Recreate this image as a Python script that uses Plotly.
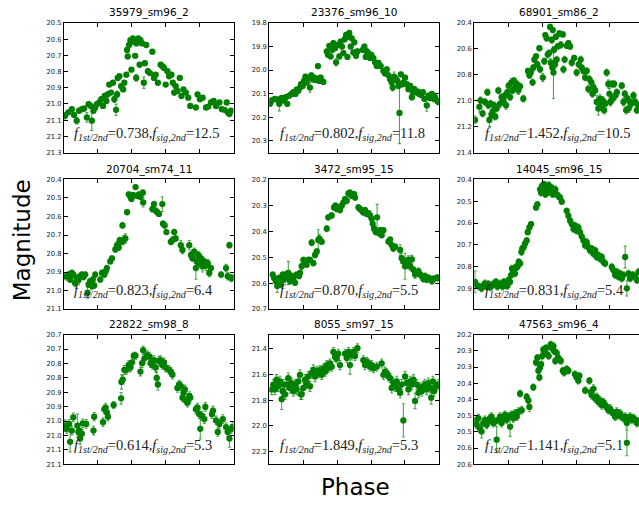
import plotly.graph_objects as go

# ---------------- data ----------------
titles = ["35979_sm96_2", "23376_sm96_10", "68901_sm86_2",
          "20704_sm74_11", "3472_sm95_15", "14045_sm96_15",
          "22822_sm98_8", "8055_sm97_15", "47563_sm96_4"]
f_ratio = ["0.738", "0.802", "1.452", "0.823", "0.870", "0.831", "0.614", "1.849", "1.141"]
f_sig = ["12.5", "11.8", "10.5", "6.4", "5.5", "5.4", "5.3", "5.3", "5.1"]

# magnitude axis limits (bright at top)
y_top = [20.5, 19.8, 20.4, 20.4, 20.2, 20.4, 20.65, 21.29, 20.2]
y_bottom = [21.3, 20.35, 21.4, 21.1, 20.7, 20.995, 21.10, 22.3, 20.6]
y_tickvals = [
    [20.5, 20.6, 20.7, 20.8, 20.9, 21.0, 21.1, 21.2, 21.3],
    [19.8, 19.9, 20.0, 20.1, 20.2, 20.3],
    [20.4, 20.6, 20.8, 21.0, 21.2, 21.4],
    [20.4, 20.5, 20.6, 20.7, 20.8, 20.9, 21.0, 21.1],
    [20.2, 20.3, 20.4, 20.5, 20.6, 20.7],
    [20.4, 20.5, 20.6, 20.7, 20.8, 20.9],
    [20.65, 20.70, 20.75, 20.80, 20.85, 20.90, 20.95, 21.00, 21.05, 21.10],
    [21.4, 21.6, 21.8, 22.0, 22.2],
    [20.20, 20.25, 20.30, 20.35, 20.40, 20.45, 20.50, 20.55, 20.60],
]
y_ticktext = [
    ["20.5", "20.6", "20.7", "20.8", "20.9", "21.0", "21.1", "21.2", "21.3"],
    ["19.8", "19.9", "20.0", "20.1", "20.2", "20.3"],
    ["20.4", "20.6", "20.8", "21.0", "21.2", "21.4"],
    ["20.4", "20.5", "20.6", "20.7", "20.8", "20.9", "21.0", "21.1"],
    ["20.2", "20.3", "20.4", "20.5", "20.6", "20.7"],
    ["20.4", "20.5", "20.6", "20.7", "20.8", "20.9"],
    ["20.7", "20.7", "20.8", "20.8", "20.9", "20.9", "21.0", "21.0", "21.1", "21.1"],
    ["21.4", "21.6", "21.8", "22.0", "22.2"],
    ["20.2", "20.3", "20.3", "20.4", "20.4", "20.5", "20.5", "20.6", "20.6"],
]
x_tickvals = [0.2, 0.4, 0.6, 0.8]

phase1 = [0.006,0.026,0.046,0.059,0.075,0.089,0.105,0.119,0.135,0.145,
          0.158,0.164,0.174,0.184,0.194,0.208,0.220,0.230,0.240,0.250,
          0.257,0.267,0.277,0.289,0.297,0.307,0.313,0.317,0.327,0.337,
          0.349,0.356,0.368,0.372,0.376,0.384,0.392,0.398,0.406,0.412,
          0.420,0.426,0.428,0.438,0.446,0.451,0.461,0.471,0.477,0.485,
          0.495,0.507,0.521,0.531,0.541,0.554,0.570,0.582,0.590,0.600,
          0.610,0.620,0.634,0.642,0.650,0.659,0.669,0.683,0.693,0.705,
          0.719,0.733,0.745,0.778,0.788,0.802,0.818,0.838,0.851,0.867,
          0.883,0.897,0.917,0.931,0.947,0.960,0.966,0.976,0.986]
mag1 = [21.073,21.052,21.032,21.068,21.103,21.042,21.032,21.028,21.083,21.001,
        21.012,21.103,21.042,21.022,21.001,20.991,20.971,21.012,20.951,20.981,
        20.941,20.880,20.930,20.869,20.971,21.036,20.941,20.839,20.829,20.890,
        20.910,20.869,20.819,20.666,20.707,20.636,20.606,20.788,20.595,20.616,
        20.703,20.839,20.626,20.595,20.758,20.606,20.626,20.869,20.748,20.636,
        20.798,20.809,20.677,20.839,20.819,20.869,20.758,20.768,20.778,20.880,
        20.798,20.829,20.819,20.869,20.930,20.890,20.920,20.839,20.951,20.910,
        20.930,20.961,21.012,21.022,20.941,20.971,20.961,21.022,21.016,20.991,
        20.981,21.012,20.991,21.032,21.036,20.991,21.052,21.062,21.042]
err1 = [0.020,0.012,0.012,0.012,0.020,0.012,0.012,0.010,0.030,0.012,
        0.012,0.060,0.015,0.012,0.012,0.015,0.012,0.015,0.012,0.012,
        0.015,0.012,0.012,0.012,0.020,0.035,0.020,0.012,0.012,0.012,
        0.012,0.012,0.012,0.012,0.012,0.010,0.012,0.012,0.010,0.012,
        0.012,0.020,0.012,0.010,0.012,0.010,0.012,0.035,0.015,0.012,
        0.015,0.012,0.012,0.015,0.012,0.012,0.012,0.012,0.012,0.012,
        0.012,0.012,0.012,0.012,0.015,0.012,0.012,0.012,0.012,0.012,
        0.012,0.012,0.012,0.012,0.012,0.012,0.012,0.012,0.012,0.012,
        0.012,0.012,0.012,0.012,0.012,0.012,0.012,0.012,0.012]

phase2 = [0.004,0.014,0.033,0.047,0.059,0.073,0.087,0.098,0.106,0.118,
          0.132,0.142,0.154,0.161,0.171,0.181,0.187,0.197,0.205,0.213,
          0.220,0.230,0.240,0.248,0.256,0.264,0.272,0.280,0.287,0.295,
          0.303,0.319,0.339,0.346,0.354,0.362,0.372,0.378,0.388,0.394,
          0.402,0.413,0.421,0.429,0.437,0.445,0.453,0.461,0.467,0.472,
          0.480,0.486,0.496,0.502,0.512,0.520,0.551,0.561,0.569,0.575,
          0.585,0.594,0.602,0.614,0.624,0.634,0.644,0.657,0.673,0.683,
          0.693,0.703,0.713,0.722,0.728,0.736,0.746,0.756,0.762,0.768,
          0.776,0.785,0.791,0.801,0.811,0.821,0.831,0.841,0.846,0.856,
          0.866,0.876,0.884,0.896,0.906,0.915,0.929,0.939,0.949,0.959,
          0.969,0.978,0.988,0.998]
mag2 = [20.143,20.129,20.122,20.125,20.143,20.118,20.129,20.115,20.143,20.108,
        20.101,20.094,20.101,20.083,20.088,20.074,20.060,20.067,20.046,20.028,
        20.053,20.036,20.074,20.022,20.039,20.032,20.042,20.036,19.983,20.046,
        20.032,20.050,19.921,19.935,19.897,19.942,19.914,19.886,19.907,19.967,
        19.893,19.942,19.879,19.900,19.928,19.869,19.851,19.944,19.858,19.842,
        19.900,19.865,19.925,19.882,19.939,19.921,19.914,19.900,19.944,19.921,
        19.928,19.949,19.935,19.949,19.967,19.983,19.969,19.983,20.004,20.014,
        19.997,20.022,20.039,20.053,20.074,20.028,20.036,20.046,20.067,20.182,
        20.018,20.060,20.053,20.032,20.060,20.081,20.067,20.115,20.092,20.081,
        20.094,20.092,20.101,20.106,20.094,20.122,20.150,20.108,20.119,20.101,
        20.122,20.115,20.129,20.136]
err2 = [0.010,0.010,0.010,0.010,0.030,0.010,0.010,0.010,0.010,0.010,
        0.010,0.010,0.010,0.010,0.010,0.010,0.010,0.010,0.010,0.010,
        0.010,0.010,0.020,0.010,0.010,0.010,0.010,0.010,0.010,0.010,
        0.010,0.010,0.010,0.010,0.010,0.010,0.010,0.010,0.010,0.015,
        0.010,0.010,0.010,0.010,0.010,0.010,0.010,0.010,0.010,0.010,
        0.010,0.010,0.010,0.010,0.010,0.010,0.010,0.010,0.010,0.010,
        0.010,0.010,0.010,0.010,0.010,0.010,0.010,0.010,0.010,0.010,
        0.010,0.010,0.010,0.010,0.015,0.020,0.010,0.010,0.010,0.130,
        0.010,0.010,0.010,0.010,0.010,0.010,0.010,0.012,0.010,0.010,
        0.010,0.010,0.010,0.010,0.010,0.010,0.025,0.010,0.010,0.010,
        0.010,0.010,0.010,0.010]

phase3 = [0.004,0.030,0.037,0.049,0.063,0.077,0.083,0.089,0.096,0.102,
          0.108,0.116,0.124,0.132,0.142,0.152,0.161,0.171,0.181,0.187,
          0.195,0.203,0.211,0.219,0.226,0.234,0.242,0.250,0.260,0.270,
          0.289,0.317,0.325,0.333,0.344,0.348,0.354,0.364,0.372,0.384,
          0.388,0.404,0.413,0.419,0.427,0.433,0.441,0.447,0.451,0.457,
          0.461,0.463,0.467,0.470,0.476,0.482,0.486,0.492,0.502,0.510,
          0.522,0.526,0.533,0.545,0.555,0.565,0.575,0.589,0.604,0.616,
          0.628,0.634,0.644,0.654,0.663,0.673,0.679,0.691,0.697,0.703,
          0.713,0.722,0.732,0.742,0.750,0.758,0.766,0.774,0.781,0.791,
          0.797,0.803,0.811,0.817,0.825,0.833,0.841,0.870,0.880,0.888,
          0.896,0.904,0.911,0.919,0.927,0.939,0.949,0.959,0.969]
mag3 = [21.148,21.047,20.997,21.098,21.010,20.934,21.035,21.148,21.022,21.110,
        21.085,21.035,21.123,21.060,20.921,21.022,20.972,20.997,20.959,21.035,
        20.934,20.884,20.972,20.858,20.921,20.846,20.896,20.871,20.921,20.889,
        20.984,20.770,20.803,20.783,20.858,20.745,20.682,20.657,20.720,20.594,
        20.758,20.821,20.695,20.493,20.518,20.644,20.632,20.430,20.707,20.531,
        20.745,20.455,20.783,20.607,20.720,20.506,20.682,20.581,20.481,20.569,
        20.488,20.758,20.682,20.576,20.556,20.581,20.707,20.670,20.783,20.720,
        20.682,20.745,20.770,20.821,20.770,20.909,20.833,20.858,20.947,20.896,
        20.921,21.010,21.060,20.984,21.035,20.997,21.073,21.022,20.783,20.871,
        20.947,21.010,20.871,20.984,20.871,20.959,20.934,20.884,21.010,20.947,
        21.073,20.984,21.060,21.010,21.022,20.959,21.010,21.073,21.035]
err3 = [0.030,0.040,0.025,0.025,0.025,0.025,0.025,0.050,0.025,0.025,
        0.025,0.025,0.025,0.025,0.025,0.030,0.025,0.025,0.025,0.030,
        0.025,0.025,0.025,0.030,0.025,0.025,0.025,0.025,0.030,0.025,
        0.025,0.020,0.025,0.020,0.025,0.025,0.025,0.020,0.025,0.020,
        0.025,0.030,0.025,0.020,0.020,0.025,0.025,0.020,0.030,0.025,
        0.025,0.020,0.200,0.025,0.030,0.020,0.025,0.020,0.020,0.025,
        0.020,0.025,0.025,0.020,0.020,0.025,0.025,0.020,0.025,0.025,
        0.025,0.025,0.025,0.025,0.025,0.030,0.025,0.025,0.025,0.025,
        0.025,0.050,0.050,0.030,0.040,0.030,0.030,0.025,0.025,0.030,
        0.040,0.030,0.025,0.030,0.025,0.030,0.025,0.025,0.030,0.025,
        0.030,0.025,0.030,0.025,0.030,0.025,0.030,0.025,0.025]

phase4 = [0.012,0.026,0.036,0.046,0.055,0.065,0.075,0.085,0.095,0.105,
          0.115,0.125,0.139,0.145,0.154,0.164,0.170,0.178,0.184,0.214,
          0.224,0.238,0.246,0.253,0.273,0.283,0.303,0.313,0.323,0.329,
          0.337,0.345,0.352,0.362,0.372,0.382,0.392,0.398,0.408,0.422,
          0.432,0.442,0.451,0.465,0.467,0.521,0.531,0.541,0.550,0.560,
          0.580,0.584,0.594,0.604,0.630,0.640,0.650,0.659,0.689,0.699,
          0.739,0.749,0.758,0.768,0.778,0.784,0.792,0.798,0.808,0.818,
          0.828,0.838,0.848,0.857,0.867,0.927,0.956,0.966,0.976,0.986,
          0.996]
mag4 = [20.923,20.914,20.941,20.905,20.914,20.959,20.932,20.944,20.923,20.914,
        20.927,20.914,21.012,20.967,20.950,20.976,20.941,20.973,20.914,20.941,
        20.905,20.914,20.896,20.879,20.843,20.826,20.778,20.755,20.768,20.728,
        20.737,20.648,20.728,20.719,20.577,20.480,20.494,20.506,20.483,20.441,
        20.489,20.480,20.494,20.471,20.524,20.560,20.533,20.568,20.577,20.586,
        20.533,20.639,20.648,20.684,20.737,20.728,20.684,20.719,20.755,20.781,
        20.755,20.808,20.826,20.790,20.879,20.844,20.808,20.852,20.826,20.870,
        20.844,20.866,20.852,20.905,20.879,20.914,20.879,20.923,20.755,20.932,
        20.932]
err4 = [0.020,0.015,0.015,0.015,0.015,0.020,0.015,0.015,0.015,0.015,
        0.015,0.015,0.030,0.015,0.015,0.020,0.015,0.015,0.015,0.015,
        0.015,0.015,0.015,0.015,0.012,0.012,0.015,0.020,0.015,0.015,
        0.015,0.015,0.025,0.025,0.012,0.012,0.015,0.012,0.012,0.012,
        0.012,0.012,0.012,0.015,0.025,0.015,0.015,0.015,0.012,0.012,
        0.040,0.015,0.015,0.012,0.015,0.020,0.015,0.015,0.025,0.020,
        0.025,0.020,0.015,0.020,0.060,0.020,0.020,0.025,0.020,0.030,
        0.020,0.025,0.020,0.020,0.015,0.015,0.020,0.020,0.015,0.020,
        0.015]

phase5 = [0.020,0.028,0.039,0.047,0.059,0.067,0.079,0.087,0.094,0.102,
          0.112,0.122,0.132,0.142,0.152,0.161,0.175,0.181,0.191,0.201,
          0.211,0.220,0.230,0.240,0.250,0.260,0.270,0.280,0.289,0.295,
          0.309,0.339,0.348,0.368,0.382,0.390,0.398,0.407,0.417,0.427,
          0.437,0.447,0.457,0.467,0.476,0.486,0.500,0.506,0.526,0.535,
          0.545,0.555,0.565,0.575,0.585,0.594,0.604,0.610,0.618,0.628,
          0.636,0.644,0.654,0.663,0.673,0.703,0.713,0.722,0.732,0.742,
          0.772,0.781,0.791,0.801,0.811,0.821,0.831,0.841,0.850,0.860,
          0.870,0.880,0.890,0.900,0.909,0.919,0.929,0.939,0.949,0.959,
          0.969,0.988,0.998]
mag5 = [20.567,20.580,20.592,20.611,20.580,20.605,20.567,20.586,20.567,20.580,
        20.561,20.592,20.573,20.586,20.599,20.567,20.573,20.561,20.535,20.510,
        20.523,20.529,20.510,20.510,20.444,20.523,20.491,20.478,20.434,20.428,
        20.440,20.390,20.346,20.339,20.308,20.301,20.314,20.308,20.318,20.301,
        20.289,20.276,20.282,20.254,20.251,20.263,20.257,20.270,20.308,20.314,
        20.320,20.327,20.318,20.333,20.330,20.339,20.352,20.371,20.390,20.403,
        20.346,20.406,20.396,20.415,20.396,20.440,20.432,20.453,20.466,20.459,
        20.472,20.504,20.516,20.535,20.523,20.510,20.535,20.508,20.548,20.567,
        20.561,20.554,20.567,20.573,20.584,20.573,20.586,20.580,20.584,20.592,
        20.584,20.580,20.580]
err5 = [0.010,0.012,0.012,0.025,0.010,0.012,0.010,0.012,0.010,0.010,
        0.045,0.012,0.012,0.010,0.010,0.010,0.010,0.010,0.012,0.010,
        0.010,0.010,0.010,0.010,0.012,0.010,0.012,0.010,0.040,0.015,
        0.010,0.012,0.010,0.010,0.010,0.010,0.010,0.010,0.010,0.010,
        0.010,0.010,0.010,0.010,0.010,0.010,0.010,0.010,0.010,0.010,
        0.010,0.010,0.010,0.010,0.010,0.010,0.012,0.010,0.010,0.010,
        0.050,0.012,0.010,0.010,0.010,0.010,0.010,0.010,0.012,0.010,
        0.020,0.020,0.015,0.050,0.020,0.015,0.015,0.015,0.012,0.015,
        0.012,0.012,0.012,0.012,0.012,0.012,0.012,0.012,0.012,0.012,
        0.012,0.012,0.012]

phase6 = [0.004,0.014,0.030,0.043,0.053,0.063,0.073,0.083,0.093,0.102,
          0.116,0.128,0.136,0.146,0.156,0.167,0.175,0.187,0.195,0.201,
          0.211,0.217,0.222,0.230,0.240,0.246,0.254,0.262,0.270,0.278,
          0.283,0.291,0.299,0.309,0.315,0.325,0.335,0.364,0.372,0.388,
          0.394,0.400,0.407,0.413,0.419,0.427,0.433,0.439,0.447,0.455,
          0.463,0.470,0.478,0.486,0.496,0.506,0.516,0.545,0.555,0.565,
          0.575,0.585,0.594,0.604,0.614,0.624,0.634,0.644,0.654,0.663,
          0.673,0.683,0.693,0.703,0.713,0.722,0.732,0.742,0.752,0.762,
          0.772,0.811,0.821,0.831,0.841,0.850,0.860,0.870,0.880,0.890,
          0.900,0.909,0.919,0.929,0.939,0.949,0.959,0.969]
mag6 = [20.870,20.885,20.892,20.900,20.889,20.877,20.892,20.880,20.895,20.889,
        20.877,20.870,20.892,20.885,20.877,20.892,20.870,20.885,20.889,20.862,
        20.870,20.839,20.809,20.817,20.832,20.802,20.802,20.779,20.786,20.733,
        20.718,20.711,20.695,20.680,20.642,20.620,20.605,20.529,20.514,20.445,
        20.461,20.430,20.450,20.423,20.468,20.438,20.461,20.426,20.453,20.438,
        20.468,20.456,20.445,20.468,20.476,20.483,20.502,20.544,20.567,20.589,
        20.605,20.627,20.612,20.635,20.620,20.642,20.662,20.680,20.703,20.688,
        20.711,20.726,20.718,20.741,20.726,20.756,20.748,20.764,20.756,20.779,
        20.786,20.802,20.817,20.839,20.824,20.847,20.832,20.855,20.839,20.756,
        20.900,20.832,20.855,20.839,20.839,20.847,20.862,20.824]
err6 = [0.050,0.015,0.015,0.015,0.015,0.015,0.015,0.015,0.015,0.015,
        0.015,0.015,0.015,0.015,0.015,0.015,0.015,0.015,0.015,0.015,
        0.015,0.015,0.015,0.015,0.015,0.015,0.015,0.015,0.015,0.015,
        0.015,0.015,0.012,0.012,0.012,0.012,0.012,0.012,0.012,0.015,
        0.015,0.015,0.015,0.015,0.015,0.015,0.015,0.015,0.015,0.015,
        0.015,0.015,0.015,0.015,0.015,0.015,0.012,0.012,0.012,0.012,
        0.012,0.015,0.015,0.015,0.015,0.015,0.015,0.015,0.015,0.015,
        0.015,0.015,0.015,0.015,0.015,0.015,0.015,0.015,0.015,0.015,
        0.015,0.015,0.015,0.015,0.015,0.015,0.015,0.015,0.015,0.050,
        0.035,0.015,0.015,0.015,0.015,0.015,0.015,0.015]

phase7 = [0.006,0.016,0.030,0.036,0.046,0.055,0.079,0.085,0.091,0.095,
          0.105,0.111,0.131,0.174,0.178,0.230,0.238,0.246,0.253,0.259,
          0.293,0.337,0.339,0.347,0.356,0.368,0.382,0.392,0.402,0.412,
          0.422,0.451,0.461,0.467,0.475,0.491,0.505,0.511,0.521,0.531,
          0.541,0.547,0.554,0.560,0.570,0.580,0.590,0.600,0.620,0.630,
          0.640,0.669,0.679,0.689,0.699,0.705,0.713,0.721,0.729,0.739,
          0.745,0.778,0.788,0.798,0.804,0.814,0.828,0.834,0.873,0.879,
          0.897,0.907,0.917,0.937,0.956,0.966,0.976,0.986,0.996]
mag7 = [20.966,20.977,20.960,21.022,20.983,20.937,20.966,20.988,20.983,21.011,
        20.994,20.958,20.960,20.983,20.935,20.954,20.909,20.903,20.920,20.935,
        20.894,20.871,20.814,20.806,20.772,20.772,20.755,20.764,20.746,20.723,
        20.723,20.778,20.749,20.704,20.732,20.721,20.726,20.749,20.755,20.738,
        20.764,20.800,20.823,20.741,20.738,20.755,20.746,20.764,20.772,20.778,
        20.789,20.835,20.823,20.829,20.869,20.852,20.840,20.880,20.886,20.863,
        20.869,20.909,20.903,20.926,20.977,20.931,20.943,20.901,20.926,20.914,
        20.948,20.988,20.960,20.943,20.971,20.988,21.011,20.977,20.971]
err7 = [0.020,0.015,0.015,0.035,0.015,0.015,0.040,0.030,0.015,0.020,
        0.015,0.015,0.015,0.015,0.015,0.015,0.015,0.015,0.015,0.015,
        0.012,0.020,0.025,0.015,0.015,0.015,0.015,0.015,0.015,0.012,
        0.012,0.015,0.015,0.015,0.015,0.015,0.015,0.015,0.015,0.015,
        0.015,0.020,0.020,0.015,0.015,0.015,0.015,0.015,0.015,0.015,
        0.015,0.015,0.015,0.015,0.015,0.015,0.015,0.015,0.015,0.015,
        0.015,0.015,0.015,0.015,0.035,0.015,0.015,0.015,0.015,0.015,
        0.015,0.015,0.015,0.015,0.015,0.015,0.030,0.015,0.015]

phase8 = [0.014,0.024,0.033,0.043,0.053,0.063,0.073,0.079,0.087,0.094,
          0.102,0.112,0.122,0.132,0.142,0.152,0.161,0.171,0.181,0.185,
          0.191,0.201,0.211,0.220,0.230,0.240,0.250,0.260,0.270,0.280,
          0.289,0.299,0.309,0.319,0.329,0.339,0.348,0.358,0.368,0.378,
          0.388,0.398,0.407,0.417,0.447,0.457,0.467,0.476,0.486,0.496,
          0.506,0.520,0.555,0.565,0.575,0.585,0.594,0.604,0.614,0.634,
          0.663,0.673,0.683,0.693,0.703,0.713,0.722,0.732,0.742,0.752,
          0.762,0.772,0.781,0.791,0.801,0.811,0.821,0.831,0.841,0.850,
          0.860,0.870,0.880,0.890,0.900,0.909,0.919,0.929,0.939,0.949,
          0.955,0.965,0.972,0.984,0.998]
mag8 = [21.717,21.679,21.717,21.641,21.692,21.654,21.793,21.730,21.679,21.755,
        21.679,21.628,21.705,21.667,21.730,21.679,21.717,21.654,21.603,21.755,
        21.755,21.705,21.641,21.667,21.616,21.692,21.590,21.565,21.616,21.578,
        21.590,21.565,21.603,21.552,21.578,21.527,21.552,21.514,21.540,21.425,
        21.463,21.476,21.438,21.527,21.438,21.471,21.425,21.527,21.451,21.425,
        21.456,21.395,21.489,21.527,21.502,21.514,21.540,21.527,21.552,21.540,
        21.514,21.603,21.578,21.590,21.616,21.628,21.705,21.667,21.692,21.654,
        21.717,21.743,21.679,21.958,21.616,21.667,21.717,21.654,21.679,21.641,
        21.806,21.679,21.743,21.705,21.730,21.692,21.679,21.717,21.667,21.705,
        21.781,21.654,21.730,21.692,21.679]
err8 = [0.040,0.040,0.040,0.040,0.040,0.040,0.080,0.040,0.040,0.040,
        0.040,0.040,0.040,0.040,0.040,0.040,0.040,0.040,0.040,0.040,
        0.040,0.040,0.040,0.040,0.040,0.040,0.040,0.040,0.040,0.040,
        0.035,0.035,0.035,0.035,0.035,0.035,0.035,0.035,0.035,0.035,
        0.035,0.035,0.035,0.035,0.035,0.035,0.035,0.070,0.035,0.035,
        0.035,0.035,0.035,0.035,0.035,0.035,0.035,0.035,0.035,0.035,
        0.035,0.035,0.035,0.035,0.035,0.035,0.040,0.040,0.040,0.040,
        0.040,0.040,0.040,0.130,0.040,0.040,0.040,0.040,0.040,0.040,
        0.060,0.040,0.040,0.040,0.040,0.040,0.040,0.040,0.040,0.040,
        0.050,0.040,0.040,0.040,0.040]

phase9 = [0.004,0.014,0.024,0.033,0.043,0.053,0.063,0.073,0.083,0.093,
          0.102,0.112,0.122,0.132,0.142,0.152,0.161,0.171,0.181,0.191,
          0.201,0.211,0.220,0.230,0.240,0.250,0.260,0.270,0.280,0.309,
          0.319,0.325,0.348,0.364,0.372,0.378,0.384,0.388,0.394,0.400,
          0.407,0.415,0.423,0.431,0.439,0.451,0.457,0.467,0.472,0.478,
          0.486,0.494,0.502,0.510,0.522,0.530,0.545,0.555,0.594,0.604,
          0.614,0.620,0.654,0.679,0.687,0.693,0.703,0.713,0.722,0.732,
          0.742,0.752,0.762,0.772,0.781,0.791,0.801,0.811,0.821,0.831,
          0.841,0.850,0.860,0.870,0.880,0.890,0.900,0.900,0.909,0.919,
          0.929,0.939,0.949,0.959,0.969]
mag9 = [20.468,20.478,20.458,20.489,20.499,20.473,20.463,20.478,20.468,20.458,
        20.453,20.473,20.468,20.524,20.463,20.453,20.473,20.458,20.448,20.463,
        20.453,20.484,20.448,20.458,20.443,20.453,20.438,20.382,20.433,20.392,
        20.403,20.423,20.362,20.286,20.271,20.311,20.332,20.301,20.291,20.266,
        20.246,20.256,20.241,20.261,20.266,20.230,20.241,20.235,20.251,20.281,
        20.256,20.271,20.276,20.281,20.311,20.317,20.306,20.311,20.322,20.332,
        20.342,20.327,20.372,20.342,20.377,20.387,20.367,20.397,20.392,20.408,
        20.403,20.418,20.408,20.418,20.423,20.433,20.428,20.438,20.443,20.453,
        20.438,20.448,20.443,20.453,20.458,20.453,20.473,20.534,20.458,20.453,
        20.463,20.458,20.463,20.473,20.468]
err9 = [0.012,0.012,0.012,0.012,0.020,0.012,0.012,0.012,0.012,0.012,
        0.012,0.012,0.012,0.040,0.012,0.012,0.012,0.012,0.012,0.012,
        0.012,0.030,0.012,0.012,0.012,0.012,0.012,0.010,0.012,0.010,
        0.010,0.015,0.010,0.010,0.010,0.010,0.010,0.010,0.010,0.010,
        0.010,0.010,0.010,0.010,0.010,0.010,0.010,0.010,0.010,0.010,
        0.010,0.010,0.010,0.010,0.010,0.010,0.010,0.010,0.010,0.010,
        0.010,0.010,0.010,0.010,0.012,0.012,0.012,0.012,0.012,0.012,
        0.012,0.012,0.012,0.012,0.012,0.012,0.012,0.012,0.012,0.012,
        0.012,0.012,0.012,0.012,0.012,0.012,0.015,0.040,0.012,0.012,
        0.012,0.012,0.012,0.012,0.012]

phases = [phase1, phase2, phase3, phase4, phase5, phase6, phase7, phase8, phase9]
mags = [mag1, mag2, mag3, mag4, mag5, mag6, mag7, mag8, mag9]
errs = [err1, err2, err3, err4, err5, err6, err7, err8, err9]
for p, m, e in zip(phases, mags, errs):
    assert len(p) == len(m) == len(e), (len(p), len(m), len(e))

# ---------------- layout geometry (pixels) ----------------
W, H = 639, 508
col_left = [64.0, 269.3, 474.3]
row_top = [19.3, 178.3, 336.0]
pw, ph = 169.5, 131.6

GREEN = "#008000"
fig = go.Figure()
annotations = []

for i in range(9):
    r, c = divmod(i, 3)
    left, top = col_left[c], row_top[r]
    right = min(left + pw, W)
    xmax = (right - left) / pw
    sfx = "" if i == 0 else str(i + 1)
    fig.add_trace(go.Scatter(
        x=phases[i], y=mags[i], mode="markers",
        marker=dict(color=GREEN, size=6.3, line=dict(width=0)),
        error_y=dict(type="data", array=errs[i], color="rgba(0,128,0,0.7)",
                     thickness=1.1, width=1.5),
        xaxis="x" + sfx, yaxis="y" + sfx, showlegend=False, hoverinfo="skip",
    ))
    fig.layout["xaxis" + sfx] = dict(
        domain=[left / W, right / W], range=[0, xmax], anchor="y" + sfx,
        tickmode="array", tickvals=x_tickvals, showticklabels=False,
        ticks="inside", ticklen=4, tickcolor="black", tickwidth=1,
        showline=True, linecolor="black", linewidth=1, mirror="ticks",
        showgrid=False, zeroline=False,
    )
    fig.layout["yaxis" + sfx] = dict(
        domain=[1 - (top + ph) / H, 1 - top / H],
        range=[y_bottom[i], y_top[i]], anchor="x" + sfx,
        tickmode="array", tickvals=y_tickvals[i], ticktext=y_ticktext[i],
        ticks="inside", ticklen=4, tickcolor="black", tickwidth=1,
        tickfont=dict(family="DejaVu Sans", size=6.8, color="#222"),
        showline=True, linecolor="black", linewidth=1,
        mirror=("ticks" if c < 2 else False),
        showgrid=False, zeroline=False,
    )
    # panel title
    annotations.append(dict(
        text=titles[i], xref="paper", yref="paper",
        x=(left + pw / 2) / W, y=1 - (top - 2) / H,
        xanchor="center", yanchor="bottom", showarrow=False,
        font=dict(family="DejaVu Sans", size=10.5, color="black"),
    ))
    # frequency label
    annotations.append(dict(
        text=("<i>f</i><sub><i>1st/2nd</i></sub>=" + f_ratio[i] +
              ",<i>f</i><sub><i>sig,2nd</i></sub>=" + f_sig[i]),
        xref="paper", yref="paper",
        x=(left + 0.05 * pw) / W, y=1 - (top + ph - 0.1 * ph + 6) / H,
        xanchor="left", yanchor="bottom", showarrow=False,
        font=dict(family="Liberation Serif", size=14.5, color="#222"),
    ))

annotations.append(dict(
    text="Magnitude", xref="paper", yref="paper", x=22 / W, y=1 - 240 / H,
    xanchor="center", yanchor="middle", textangle=-90, showarrow=False,
    font=dict(family="DejaVu Sans", size=23, color="black"),
))
annotations.append(dict(
    text="Phase", xref="paper", yref="paper", x=355 / W, y=1 - 491 / H,
    xanchor="center", yanchor="middle", showarrow=False,
    font=dict(family="DejaVu Sans", size=23, color="black"),
))

fig.update_layout(
    width=W, height=H, margin=dict(l=0, r=0, t=0, b=0),
    paper_bgcolor="white", plot_bgcolor="white",
    annotations=annotations,
)
fig.write_html("out.html")
